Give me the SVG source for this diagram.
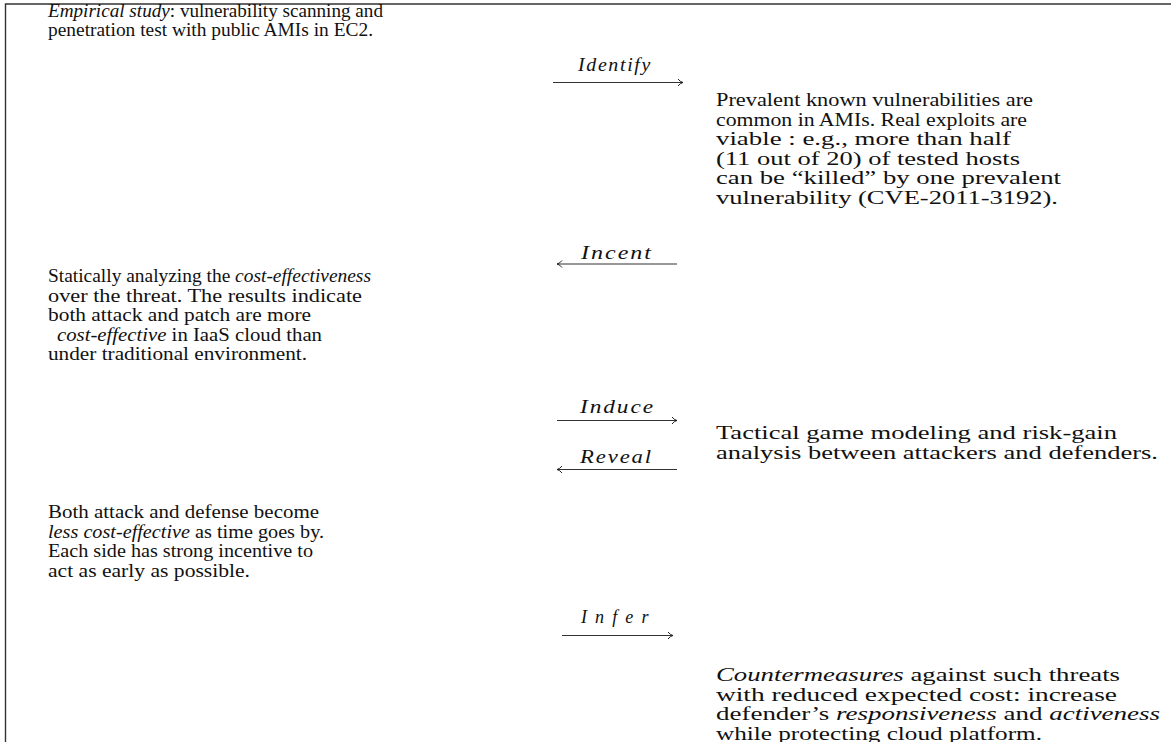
<svg xmlns="http://www.w3.org/2000/svg" width="1171" height="742" viewBox="0 0 1171 742">
  <defs>
    <marker id="head" markerWidth="10" markerHeight="10" refX="8" refY="5" orient="auto-start-reverse" markerUnits="userSpaceOnUse">
      <path d="M3,1.5 Q5,4.3 8,5 Q5,5.7 3,8.5" fill="none" stroke="#222" stroke-width="1"/>
    </marker>
  </defs>
  <style>
    .t { font-family: "Liberation Serif", "DejaVu Serif", serif; font-size: 18px; fill: #111; }
    .i { font-style: italic; }
    .lbl { font-family: "Liberation Serif", "DejaVu Serif", serif; font-size: 18px; font-style: italic; fill: #111; letter-spacing: 1.5px; }
    .edge { stroke: #333; stroke-width: 1.1; fill: none; }
    .frame { stroke: #333; stroke-width: 1.4; fill: none; }
  </style>

  <rect width="1171" height="742" fill="#fff"/>
  <!-- enclosing frame (top and left rules) -->
  <path class="frame" d="M5.5,742 V4 H1171"/>

  <g id="empirical-study">
    <text class="t" x="48" y="17" textLength="335" lengthAdjust="spacingAndGlyphs"><tspan class="i">Empirical study</tspan>: vulnerability scanning and</text>
    <text class="t" x="48" y="36" textLength="325" lengthAdjust="spacingAndGlyphs">penetration test with public AMIs in EC2.</text>
  </g>

  <g id="prevalent-vulnerabilities">
    <text class="t" x="716" y="106" textLength="317" lengthAdjust="spacingAndGlyphs">Prevalent known vulnerabilities are</text>
    <text class="t" x="716" y="125.5" textLength="311" lengthAdjust="spacingAndGlyphs">common in AMIs. Real exploits are</text>
    <text class="t" x="716" y="145" textLength="295" lengthAdjust="spacingAndGlyphs">viable : e.g., more than half</text>
    <text class="t" x="716" y="164.5" textLength="304" lengthAdjust="spacingAndGlyphs">(11 out of 20) of tested hosts</text>
    <text class="t" x="716" y="184" textLength="345" lengthAdjust="spacingAndGlyphs">can be “killed” by one prevalent</text>
    <text class="t" x="716" y="203.5" textLength="342" lengthAdjust="spacingAndGlyphs">vulnerability (CVE-2011-3192).</text>
  </g>

  <g id="cost-effectiveness">
    <text class="t" x="48" y="282" textLength="323" lengthAdjust="spacingAndGlyphs">Statically analyzing the <tspan class="i">cost-effectiveness</tspan></text>
    <text class="t" x="48" y="301.5" textLength="314" lengthAdjust="spacingAndGlyphs">over the threat. The results indicate</text>
    <text class="t" x="48" y="321" textLength="263" lengthAdjust="spacingAndGlyphs">both attack and patch are more</text>
    <text class="t" x="57" y="340.5" textLength="265" lengthAdjust="spacingAndGlyphs"><tspan class="i">cost-effective</tspan> in IaaS cloud than</text>
    <text class="t" x="48" y="360" textLength="259" lengthAdjust="spacingAndGlyphs">under traditional environment.</text>
  </g>

  <g id="tactical-game">
    <text class="t" x="716" y="439" textLength="401" lengthAdjust="spacingAndGlyphs">Tactical game modeling and risk-gain</text>
    <text class="t" x="716" y="458.5" textLength="442" lengthAdjust="spacingAndGlyphs">analysis between attackers and defenders.</text>
  </g>

  <g id="time-effect">
    <text class="t" x="48" y="518" textLength="271" lengthAdjust="spacingAndGlyphs">Both attack and defense become</text>
    <text class="t" x="48" y="537.5" textLength="276" lengthAdjust="spacingAndGlyphs"><tspan class="i">less cost-effective</tspan> as time goes by.</text>
    <text class="t" x="48" y="557" textLength="265" lengthAdjust="spacingAndGlyphs">Each side has strong incentive to</text>
    <text class="t" x="48" y="576.5" textLength="202" lengthAdjust="spacingAndGlyphs">act as early as possible.</text>
  </g>

  <g id="countermeasures">
    <text class="t" x="716" y="681" textLength="404" lengthAdjust="spacingAndGlyphs"><tspan class="i">Countermeasures</tspan> against such threats</text>
    <text class="t" x="716" y="700.5" textLength="401" lengthAdjust="spacingAndGlyphs">with reduced expected cost: increase</text>
    <text class="t" x="716" y="720" textLength="444" lengthAdjust="spacingAndGlyphs">defender’s <tspan class="i">responsiveness</tspan> and <tspan class="i">activeness</tspan></text>
    <text class="t" x="716" y="739.5" textLength="326" lengthAdjust="spacingAndGlyphs">while protecting cloud platform.</text>
  </g>

  <g id="connectors">
    <g id="identify">
      <line class="edge" x1="553" y1="82.5" x2="683" y2="82.5" marker-end="url(#head)"/>
      <text class="lbl" x="578" y="71" textLength="74" lengthAdjust="spacingAndGlyphs">Identify</text>
    </g>
    <g id="incent">
      <line class="edge" x1="557" y1="264" x2="677" y2="264" marker-start="url(#head)"/>
      <text class="lbl" x="581" y="259" textLength="72" lengthAdjust="spacingAndGlyphs">Incent</text>
    </g>
    <g id="induce">
      <line class="edge" x1="557" y1="420.5" x2="677" y2="420.5" marker-end="url(#head)"/>
      <text class="lbl" x="580" y="413" textLength="75" lengthAdjust="spacingAndGlyphs">Induce</text>
    </g>
    <g id="reveal">
      <line class="edge" x1="557" y1="469.5" x2="677" y2="469.5" marker-start="url(#head)"/>
      <text class="lbl" x="580" y="463" textLength="73" lengthAdjust="spacingAndGlyphs">Reveal</text>
    </g>
    <g id="infer">
      <line class="edge" x1="562" y1="635.5" x2="673" y2="635.5" marker-end="url(#head)"/>
      <text class="lbl" x="581" y="623" textLength="69" lengthAdjust="spacing">Infer</text>
    </g>
  </g>
</svg>
